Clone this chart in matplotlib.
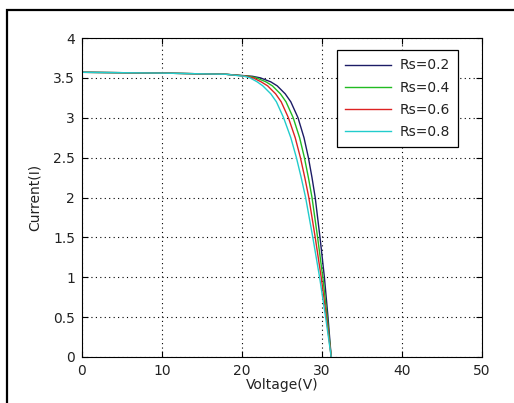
import matplotlib
matplotlib.use('Agg')
import matplotlib.pyplot as plt
from matplotlib.patches import Rectangle

plt.rcParams['font.family'] = ['DejaVu Sans']

# current levels shared by all curves (A)
current = [3.57, 3.56, 3.545, 3.52, 3.5, 3.45, 3.4, 3.3, 3.2, 3.0,
           2.75, 2.5, 2.25, 2.0, 1.5, 1.0, 0.5, 0.0]

# voltage where each curve reaches those current levels (V)
v_rs02 = [0, 10, 18, 21.3, 22.3, 23.6, 24.4, 25.4, 26.1, 27.0,
          27.75, 28.3, 28.75, 29.15, 29.75, 30.3, 30.75, 31.15]
v_rs04 = [0, 10, 18, 20.9, 21.8, 23.0, 23.8, 24.8, 25.5, 26.4,
          27.2, 27.8, 28.3, 28.75, 29.45, 30.1, 30.65, 31.15]
v_rs06 = [0, 10, 18, 20.6, 21.4, 22.4, 23.2, 24.2, 24.9, 25.8,
          26.65, 27.3, 27.85, 28.35, 29.15, 29.9, 30.55, 31.15]
v_rs08 = [0, 10, 18, 20.3, 21.0, 21.9, 22.6, 23.6, 24.3, 25.2,
          26.1, 26.8, 27.4, 27.95, 28.85, 29.7, 30.45, 31.15]

labels = ['Rs=0.2', 'Rs=0.4', 'Rs=0.6', 'Rs=0.8']
colors = ['#1c1c66', '#22bb22', '#dd2222', '#22cccc']

fig = plt.figure(figsize=(5.14, 4.03), dpi=100)
# outer frame of the pasted figure
fig.patches.append(Rectangle((7 / 514, -0.05), 1.2, 1 - 10 / 403 + 0.05,
                             transform=fig.transFigure, fill=False,
                             edgecolor='black', linewidth=1.6))

ax = fig.add_axes([82 / 514, 1 - 357 / 403, 400 / 514, 319 / 403])

for v, lab, c in zip([v_rs02, v_rs04, v_rs06, v_rs08], labels, colors):
    ax.plot(v, current, color=c, linewidth=1.0, label=lab)

ax.set_xlim(0, 50)
ax.set_ylim(0, 4)
ax.set_xticks([0, 10, 20, 30, 40, 50])
ax.set_yticks([0, 0.5, 1, 1.5, 2, 2.5, 3, 3.5, 4])
ax.set_yticklabels(['0', '0.5', '1', '1.5', '2', '2.5', '3', '3.5', '4'])
ax.tick_params(direction='in', length=4, width=0.8, top=True, right=True,
               labelsize=10, pad=5, labelcolor='#222222')
ax.grid(True, color='black', linestyle=(0, (1, 3)), linewidth=0.8)
for s in ax.spines.values():
    s.set_linewidth(0.8)

ax.set_xlabel('Voltage(V)', fontsize=10, labelpad=0, color='#222222')
ax.set_ylabel('Current(I)', fontsize=10, color='#222222')
ax.yaxis.set_label_coords(-0.1, 0.5)

leg = ax.legend(loc='upper right', bbox_to_anchor=(0.94, 0.962),
                fontsize=10, fancybox=False, framealpha=1,
                edgecolor='black', handlelength=3.3, labelspacing=0.58,
                handletextpad=0.6, borderpad=0.6, borderaxespad=0)
leg.get_frame().set_linewidth(0.9)
for t in leg.get_texts():
    t.set_color('#222222')

fig.savefig('out.png', dpi=100)
